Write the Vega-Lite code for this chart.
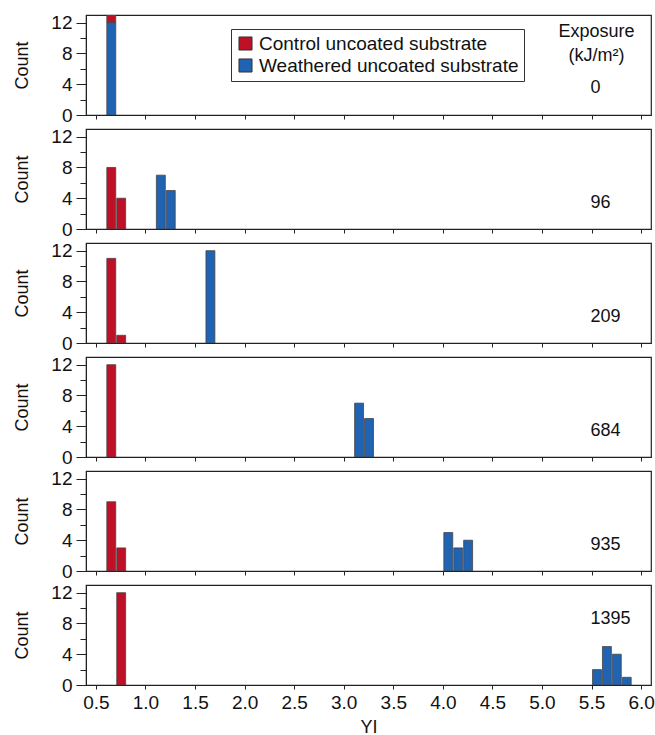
{
  "$schema": "https://vega.github.io/schema/vega-lite/v6.json",
  "padding": {"left": 13, "top": 13, "right": 0, "bottom": 0},
  "background": "white",
  "datasets": {
    "bars": [
      {"exposure": 0, "sample": "Control uncoated substrate", "yi_start": 0.6, "yi_end": 0.7, "count": 12},
      {"exposure": 0, "sample": "Weathered uncoated substrate", "yi_start": 0.6, "yi_end": 0.7, "count": 12},
      {"exposure": 96, "sample": "Control uncoated substrate", "yi_start": 0.6, "yi_end": 0.7, "count": 8},
      {"exposure": 96, "sample": "Control uncoated substrate", "yi_start": 0.7, "yi_end": 0.8, "count": 4},
      {"exposure": 96, "sample": "Weathered uncoated substrate", "yi_start": 1.1, "yi_end": 1.2, "count": 7},
      {"exposure": 96, "sample": "Weathered uncoated substrate", "yi_start": 1.2, "yi_end": 1.3, "count": 5},
      {"exposure": 209, "sample": "Control uncoated substrate", "yi_start": 0.6, "yi_end": 0.7, "count": 11},
      {"exposure": 209, "sample": "Control uncoated substrate", "yi_start": 0.7, "yi_end": 0.8, "count": 1},
      {"exposure": 209, "sample": "Weathered uncoated substrate", "yi_start": 1.6, "yi_end": 1.7, "count": 12},
      {"exposure": 684, "sample": "Control uncoated substrate", "yi_start": 0.6, "yi_end": 0.7, "count": 12},
      {"exposure": 684, "sample": "Weathered uncoated substrate", "yi_start": 3.1, "yi_end": 3.2, "count": 7},
      {"exposure": 684, "sample": "Weathered uncoated substrate", "yi_start": 3.2, "yi_end": 3.3, "count": 5},
      {"exposure": 935, "sample": "Control uncoated substrate", "yi_start": 0.6, "yi_end": 0.7, "count": 9},
      {"exposure": 935, "sample": "Control uncoated substrate", "yi_start": 0.7, "yi_end": 0.8, "count": 3},
      {"exposure": 935, "sample": "Weathered uncoated substrate", "yi_start": 4.0, "yi_end": 4.1, "count": 5},
      {"exposure": 935, "sample": "Weathered uncoated substrate", "yi_start": 4.1, "yi_end": 4.2, "count": 3},
      {"exposure": 935, "sample": "Weathered uncoated substrate", "yi_start": 4.2, "yi_end": 4.3, "count": 4},
      {"exposure": 1395, "sample": "Control uncoated substrate", "yi_start": 0.7, "yi_end": 0.8, "count": 12},
      {"exposure": 1395, "sample": "Weathered uncoated substrate", "yi_start": 5.5, "yi_end": 5.6, "count": 2},
      {"exposure": 1395, "sample": "Weathered uncoated substrate", "yi_start": 5.6, "yi_end": 5.7, "count": 5},
      {"exposure": 1395, "sample": "Weathered uncoated substrate", "yi_start": 5.7, "yi_end": 5.8, "count": 4},
      {"exposure": 1395, "sample": "Weathered uncoated substrate", "yi_start": 5.8, "yi_end": 5.9, "count": 1}
    ],
    "exposures": [
      {"exposure": 0}, {"exposure": 96}, {"exposure": 209}, {"exposure": 684}, {"exposure": 935}, {"exposure": 1395}
    ]
  },
  "spacing": 14,
  "bounds": "flush",
  "resolve": {"legend": {"color": "independent"}},
  "vconcat": [
    {
      "width": 565, "height": 100,
      "layer": [
        {
          "data": {"name": "bars"},
          "transform": [{"filter": "datum.exposure == 0"}],
          "mark": {"type": "bar", "clip": true, "stroke": "#444", "strokeWidth": 0.8},
          "encoding": {
            "x": {"field": "yi_start", "type": "quantitative", "bin": "binned", "scale": {"domain": [0.4, 6.1], "nice": false, "zero": false}, "axis": {"values": [0.5, 1, 1.5, 2, 2.5, 3, 3.5, 4, 4.5, 5, 5.5, 6], "labels": false, "title": null}},
            "x2": {"field": "yi_end"},
            "y": {"field": "count", "type": "quantitative", "stack": "zero", "scale": {"domain": [0, 13], "nice": false}, "axis": {"values": [0, 2, 4, 6, 8, 10, 12], "labelFlush": false, "labelBound": false, "labelExpr": "datum.value % 4 === 0 ? datum.label : ''", "tickSize": {"condition": {"test": "datum.value % 4 === 0", "value": 10}, "value": 6}, "title": "Count"}},
            "color": {"field": "sample", "type": "nominal", "scale": {"domain": ["Control uncoated substrate", "Weathered uncoated substrate"], "range": ["#BE1128", "#1F63B2"]},
              "legend": {"orient": "none", "legendX": 145, "legendY": 14, "direction": "vertical", "title": null, "strokeColor": "#333", "fillColor": "white", "padding": 5, "symbolType": "square", "symbolSize": 170, "symbolStrokeColor": "#333", "symbolStrokeWidth": 1, "labelFontSize": 19, "labelColor": "#111", "rowPadding": 2, "labelOffset": 4, "labelLimit": 400}},
            "order": {"field": "sample", "sort": "descending"}
          }
        },
        {
          "data": {"name": "exposures"},
          "transform": [{"filter": "datum.exposure == 0"}],
          "mark": {"type": "text", "text": "Exposure", "align": "center", "baseline": "middle", "fontSize": 18, "color": "#111"},
          "encoding": {
            "x": {"datum": 5.55, "type": "quantitative", "axis": {"values": [0.5, 1, 1.5, 2, 2.5, 3, 3.5, 4, 4.5, 5, 5.5, 6], "labels": false, "title": null}},
            "y": {"datum": 10.8, "type": "quantitative", "axis": {"values": [0, 2, 4, 6, 8, 10, 12], "labelFlush": false, "labelBound": false, "labelExpr": "datum.value % 4 === 0 ? datum.label : ''", "tickSize": {"condition": {"test": "datum.value % 4 === 0", "value": 10}, "value": 6}, "title": "Count"}}
          }
        },
        {
          "data": {"name": "exposures"},
          "transform": [{"filter": "datum.exposure == 0"}],
          "mark": {"type": "text", "text": "(kJ/m²)", "align": "center", "baseline": "middle", "fontSize": 18, "color": "#111"},
          "encoding": {
            "x": {"datum": 5.55, "type": "quantitative", "axis": {"values": [0.5, 1, 1.5, 2, 2.5, 3, 3.5, 4, 4.5, 5, 5.5, 6], "labels": false, "title": null}},
            "y": {"datum": 7.7, "type": "quantitative", "axis": {"values": [0, 2, 4, 6, 8, 10, 12], "labelFlush": false, "labelBound": false, "labelExpr": "datum.value % 4 === 0 ? datum.label : ''", "tickSize": {"condition": {"test": "datum.value % 4 === 0", "value": 10}, "value": 6}, "title": "Count"}}
          }
        },
        {
          "data": {"name": "exposures"},
          "transform": [{"filter": "datum.exposure == 0"}],
          "mark": {"type": "text", "align": "left", "baseline": "middle", "fontSize": 18, "color": "#111"},
          "encoding": {
            "x": {"datum": 5.49, "type": "quantitative", "axis": {"values": [0.5, 1, 1.5, 2, 2.5, 3, 3.5, 4, 4.5, 5, 5.5, 6], "labels": false, "title": null}},
            "y": {"datum": 3.5, "type": "quantitative", "axis": {"values": [0, 2, 4, 6, 8, 10, 12], "labelFlush": false, "labelBound": false, "labelExpr": "datum.value % 4 === 0 ? datum.label : ''", "tickSize": {"condition": {"test": "datum.value % 4 === 0", "value": 10}, "value": 6}, "title": "Count"}},
            "text": {"field": "exposure", "type": "quantitative"}
          }
        }
      ]
    },
    {
      "width": 565, "height": 100,
      "layer": [
        {
          "data": {"name": "bars"},
          "transform": [{"filter": "datum.exposure == 96"}],
          "mark": {"type": "bar", "clip": true, "stroke": "#444", "strokeWidth": 0.8},
          "encoding": {
            "x": {"field": "yi_start", "type": "quantitative", "bin": "binned", "scale": {"domain": [0.4, 6.1], "nice": false, "zero": false}, "axis": {"values": [0.5, 1, 1.5, 2, 2.5, 3, 3.5, 4, 4.5, 5, 5.5, 6], "labels": false, "title": null}},
            "x2": {"field": "yi_end"},
            "y": {"field": "count", "type": "quantitative", "stack": "zero", "scale": {"domain": [0, 13], "nice": false}, "axis": {"values": [0, 2, 4, 6, 8, 10, 12], "labelFlush": false, "labelBound": false, "labelExpr": "datum.value % 4 === 0 ? datum.label : ''", "tickSize": {"condition": {"test": "datum.value % 4 === 0", "value": 10}, "value": 6}, "title": "Count"}},
            "color": {"field": "sample", "type": "nominal", "scale": {"domain": ["Control uncoated substrate", "Weathered uncoated substrate"], "range": ["#BE1128", "#1F63B2"]}, "legend": null},
            "order": {"field": "sample", "sort": "descending"}
          }
        },
        {
          "data": {"name": "exposures"},
          "transform": [{"filter": "datum.exposure == 96"}],
          "mark": {"type": "text", "align": "left", "baseline": "middle", "fontSize": 18, "color": "#111"},
          "encoding": {
            "x": {"datum": 5.49, "type": "quantitative", "axis": {"values": [0.5, 1, 1.5, 2, 2.5, 3, 3.5, 4, 4.5, 5, 5.5, 6], "labels": false, "title": null}},
            "y": {"datum": 3.4, "type": "quantitative", "axis": {"values": [0, 2, 4, 6, 8, 10, 12], "labelFlush": false, "labelBound": false, "labelExpr": "datum.value % 4 === 0 ? datum.label : ''", "tickSize": {"condition": {"test": "datum.value % 4 === 0", "value": 10}, "value": 6}, "title": "Count"}},
            "text": {"field": "exposure", "type": "quantitative"}
          }
        }
      ]
    },
    {
      "width": 565, "height": 100,
      "layer": [
        {
          "data": {"name": "bars"},
          "transform": [{"filter": "datum.exposure == 209"}],
          "mark": {"type": "bar", "clip": true, "stroke": "#444", "strokeWidth": 0.8},
          "encoding": {
            "x": {"field": "yi_start", "type": "quantitative", "bin": "binned", "scale": {"domain": [0.4, 6.1], "nice": false, "zero": false}, "axis": {"values": [0.5, 1, 1.5, 2, 2.5, 3, 3.5, 4, 4.5, 5, 5.5, 6], "labels": false, "title": null}},
            "x2": {"field": "yi_end"},
            "y": {"field": "count", "type": "quantitative", "stack": "zero", "scale": {"domain": [0, 13], "nice": false}, "axis": {"values": [0, 2, 4, 6, 8, 10, 12], "labelFlush": false, "labelBound": false, "labelExpr": "datum.value % 4 === 0 ? datum.label : ''", "tickSize": {"condition": {"test": "datum.value % 4 === 0", "value": 10}, "value": 6}, "title": "Count"}},
            "color": {"field": "sample", "type": "nominal", "scale": {"domain": ["Control uncoated substrate", "Weathered uncoated substrate"], "range": ["#BE1128", "#1F63B2"]}, "legend": null},
            "order": {"field": "sample", "sort": "descending"}
          }
        },
        {
          "data": {"name": "exposures"},
          "transform": [{"filter": "datum.exposure == 209"}],
          "mark": {"type": "text", "align": "left", "baseline": "middle", "fontSize": 18, "color": "#111"},
          "encoding": {
            "x": {"datum": 5.49, "type": "quantitative", "axis": {"values": [0.5, 1, 1.5, 2, 2.5, 3, 3.5, 4, 4.5, 5, 5.5, 6], "labels": false, "title": null}},
            "y": {"datum": 3.4, "type": "quantitative", "axis": {"values": [0, 2, 4, 6, 8, 10, 12], "labelFlush": false, "labelBound": false, "labelExpr": "datum.value % 4 === 0 ? datum.label : ''", "tickSize": {"condition": {"test": "datum.value % 4 === 0", "value": 10}, "value": 6}, "title": "Count"}},
            "text": {"field": "exposure", "type": "quantitative"}
          }
        }
      ]
    },
    {
      "width": 565, "height": 100,
      "layer": [
        {
          "data": {"name": "bars"},
          "transform": [{"filter": "datum.exposure == 684"}],
          "mark": {"type": "bar", "clip": true, "stroke": "#444", "strokeWidth": 0.8},
          "encoding": {
            "x": {"field": "yi_start", "type": "quantitative", "bin": "binned", "scale": {"domain": [0.4, 6.1], "nice": false, "zero": false}, "axis": {"values": [0.5, 1, 1.5, 2, 2.5, 3, 3.5, 4, 4.5, 5, 5.5, 6], "labels": false, "title": null}},
            "x2": {"field": "yi_end"},
            "y": {"field": "count", "type": "quantitative", "stack": "zero", "scale": {"domain": [0, 13], "nice": false}, "axis": {"values": [0, 2, 4, 6, 8, 10, 12], "labelFlush": false, "labelBound": false, "labelExpr": "datum.value % 4 === 0 ? datum.label : ''", "tickSize": {"condition": {"test": "datum.value % 4 === 0", "value": 10}, "value": 6}, "title": "Count"}},
            "color": {"field": "sample", "type": "nominal", "scale": {"domain": ["Control uncoated substrate", "Weathered uncoated substrate"], "range": ["#BE1128", "#1F63B2"]}, "legend": null},
            "order": {"field": "sample", "sort": "descending"}
          }
        },
        {
          "data": {"name": "exposures"},
          "transform": [{"filter": "datum.exposure == 684"}],
          "mark": {"type": "text", "align": "left", "baseline": "middle", "fontSize": 18, "color": "#111"},
          "encoding": {
            "x": {"datum": 5.49, "type": "quantitative", "axis": {"values": [0.5, 1, 1.5, 2, 2.5, 3, 3.5, 4, 4.5, 5, 5.5, 6], "labels": false, "title": null}},
            "y": {"datum": 3.4, "type": "quantitative", "axis": {"values": [0, 2, 4, 6, 8, 10, 12], "labelFlush": false, "labelBound": false, "labelExpr": "datum.value % 4 === 0 ? datum.label : ''", "tickSize": {"condition": {"test": "datum.value % 4 === 0", "value": 10}, "value": 6}, "title": "Count"}},
            "text": {"field": "exposure", "type": "quantitative"}
          }
        }
      ]
    },
    {
      "width": 565, "height": 100,
      "layer": [
        {
          "data": {"name": "bars"},
          "transform": [{"filter": "datum.exposure == 935"}],
          "mark": {"type": "bar", "clip": true, "stroke": "#444", "strokeWidth": 0.8},
          "encoding": {
            "x": {"field": "yi_start", "type": "quantitative", "bin": "binned", "scale": {"domain": [0.4, 6.1], "nice": false, "zero": false}, "axis": {"values": [0.5, 1, 1.5, 2, 2.5, 3, 3.5, 4, 4.5, 5, 5.5, 6], "labels": false, "title": null}},
            "x2": {"field": "yi_end"},
            "y": {"field": "count", "type": "quantitative", "stack": "zero", "scale": {"domain": [0, 13], "nice": false}, "axis": {"values": [0, 2, 4, 6, 8, 10, 12], "labelFlush": false, "labelBound": false, "labelExpr": "datum.value % 4 === 0 ? datum.label : ''", "tickSize": {"condition": {"test": "datum.value % 4 === 0", "value": 10}, "value": 6}, "title": "Count"}},
            "color": {"field": "sample", "type": "nominal", "scale": {"domain": ["Control uncoated substrate", "Weathered uncoated substrate"], "range": ["#BE1128", "#1F63B2"]}, "legend": null},
            "order": {"field": "sample", "sort": "descending"}
          }
        },
        {
          "data": {"name": "exposures"},
          "transform": [{"filter": "datum.exposure == 935"}],
          "mark": {"type": "text", "align": "left", "baseline": "middle", "fontSize": 18, "color": "#111"},
          "encoding": {
            "x": {"datum": 5.49, "type": "quantitative", "axis": {"values": [0.5, 1, 1.5, 2, 2.5, 3, 3.5, 4, 4.5, 5, 5.5, 6], "labels": false, "title": null}},
            "y": {"datum": 3.4, "type": "quantitative", "axis": {"values": [0, 2, 4, 6, 8, 10, 12], "labelFlush": false, "labelBound": false, "labelExpr": "datum.value % 4 === 0 ? datum.label : ''", "tickSize": {"condition": {"test": "datum.value % 4 === 0", "value": 10}, "value": 6}, "title": "Count"}},
            "text": {"field": "exposure", "type": "quantitative"}
          }
        }
      ]
    },
    {
      "width": 565, "height": 100,
      "layer": [
        {
          "data": {"name": "bars"},
          "transform": [{"filter": "datum.exposure == 1395"}],
          "mark": {"type": "bar", "clip": true, "stroke": "#444", "strokeWidth": 0.8},
          "encoding": {
            "x": {"field": "yi_start", "type": "quantitative", "bin": "binned", "scale": {"domain": [0.4, 6.1], "nice": false, "zero": false}, "axis": {"values": [0.5, 1, 1.5, 2, 2.5, 3, 3.5, 4, 4.5, 5, 5.5, 6], "format": ".1f", "labelFlush": false, "title": "YI", "labelPadding": 4, "titlePadding": 6}},
            "x2": {"field": "yi_end"},
            "y": {"field": "count", "type": "quantitative", "stack": "zero", "scale": {"domain": [0, 13], "nice": false}, "axis": {"values": [0, 2, 4, 6, 8, 10, 12], "labelFlush": false, "labelBound": false, "labelExpr": "datum.value % 4 === 0 ? datum.label : ''", "tickSize": {"condition": {"test": "datum.value % 4 === 0", "value": 10}, "value": 6}, "title": "Count"}},
            "color": {"field": "sample", "type": "nominal", "scale": {"domain": ["Control uncoated substrate", "Weathered uncoated substrate"], "range": ["#BE1128", "#1F63B2"]}, "legend": null},
            "order": {"field": "sample", "sort": "descending"}
          }
        },
        {
          "data": {"name": "exposures"},
          "transform": [{"filter": "datum.exposure == 1395"}],
          "mark": {"type": "text", "align": "left", "baseline": "middle", "fontSize": 18, "color": "#111"},
          "encoding": {
            "x": {"datum": 5.49, "type": "quantitative", "axis": {"values": [0.5, 1, 1.5, 2, 2.5, 3, 3.5, 4, 4.5, 5, 5.5, 6], "format": ".1f", "labelFlush": false, "title": "YI", "labelPadding": 4, "titlePadding": 6}},
            "y": {"datum": 8.6, "type": "quantitative", "axis": {"values": [0, 2, 4, 6, 8, 10, 12], "labelFlush": false, "labelBound": false, "labelExpr": "datum.value % 4 === 0 ? datum.label : ''", "tickSize": {"condition": {"test": "datum.value % 4 === 0", "value": 10}, "value": 6}, "title": "Count"}},
            "text": {"field": "exposure", "type": "quantitative"}
          }
        }
      ]
    }
  ],
  "config": {
    "font": "Liberation Sans",
    "view": {"stroke": "#222", "strokeWidth": 1.2},
    "axis": {"domainColor": "#222", "tickColor": "#222", "labelColor": "#111", "titleColor": "#111", "labelFontSize": 19, "titleFontSize": 18, "titleFontWeight": "normal", "grid": false, "tickSize": 4, "labelPadding": 4, "labelOverlap": false},
    "axisY": {"titlePadding": 19}
  }
}
